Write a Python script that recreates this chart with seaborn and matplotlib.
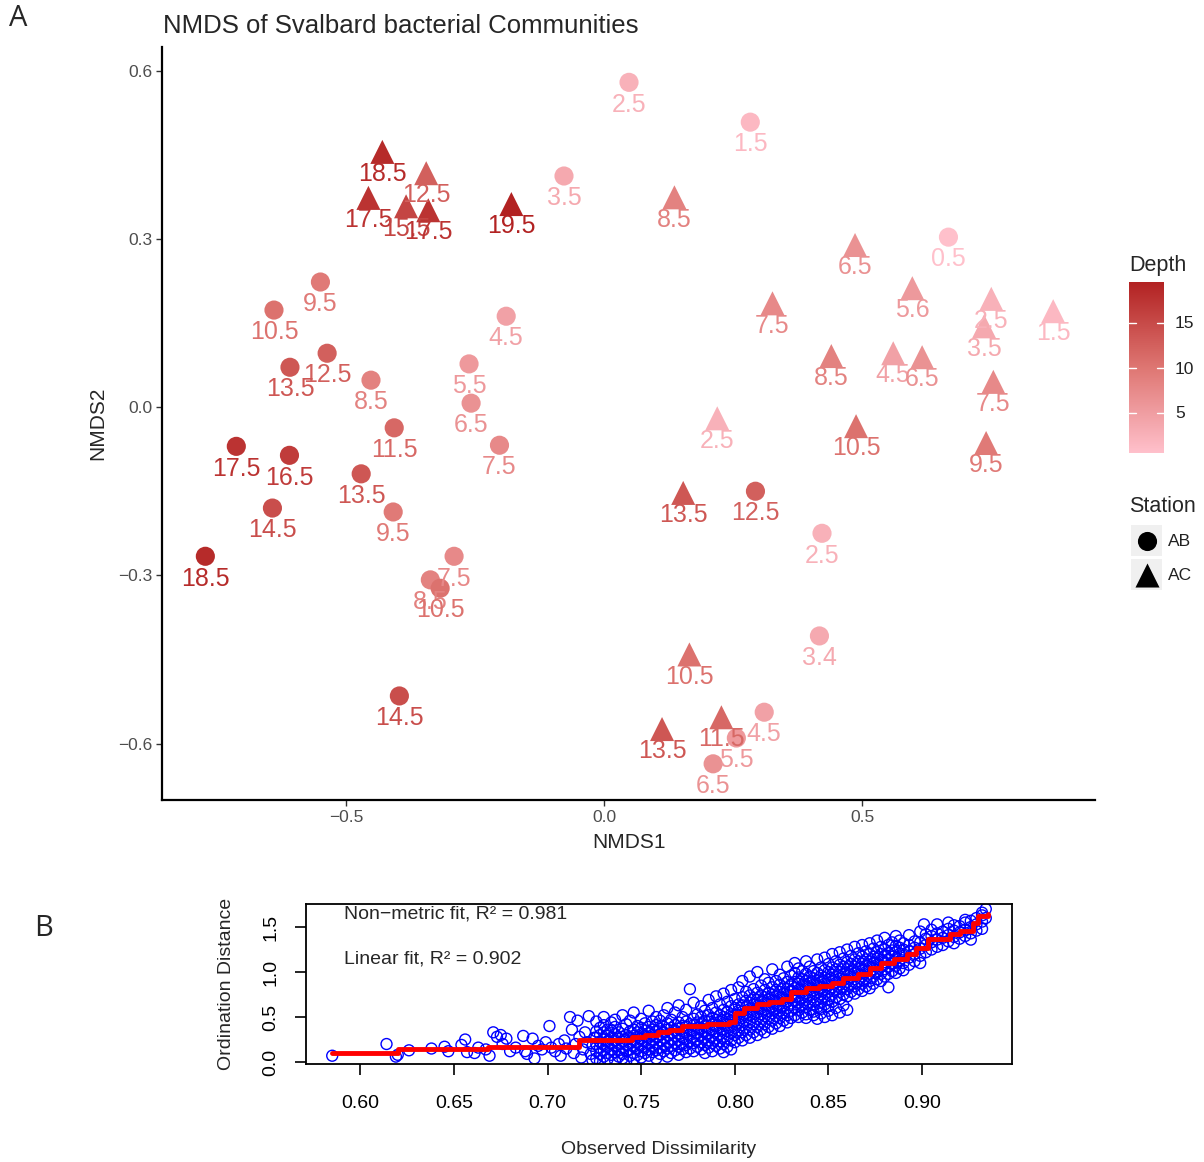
import numpy as np
import pandas as pd
import seaborn as sns
import matplotlib
matplotlib.use("Agg")
import matplotlib.pyplot as plt
from matplotlib.colors import LinearSegmentedColormap, Normalize
from matplotlib.cm import ScalarMappable
from matplotlib.patches import Rectangle

sns.set_theme(style="white")
plt.rcParams["font.family"] = ["Liberation Sans", "DejaVu Sans"]

# ---------------- NMDS site scores ----------------
# Station AB (circles)
ab_nmds1 = [0.048, 0.283, -0.078, 0.667, -0.550, -0.640, -0.190, -0.537, -0.609, -0.452,
            -0.262, -0.258, -0.407, -0.203, -0.713, -0.610, -0.471, -0.409, -0.643, -0.773,
            -0.291, -0.337, -0.318, -0.397, 0.293, 0.422, 0.417, 0.310, 0.256, 0.211]
ab_nmds2 = [0.579, 0.508, 0.412, 0.303, 0.223, 0.173, 0.162, 0.096, 0.071, 0.048,
            0.077, 0.007, -0.037, -0.068, -0.070, -0.086, -0.119, -0.187, -0.180, -0.266,
            -0.266, -0.308, -0.323, -0.515, -0.150, -0.225, -0.408, -0.544, -0.590, -0.636]
ab_depth = [2.5, 1.5, 3.5, 0.5, 9.5, 10.5, 4.5, 12.5, 13.5, 8.5,
            5.5, 6.5, 11.5, 7.5, 17.5, 16.5, 13.5, 9.5, 14.5, 18.5,
            7.5, 8.5, 10.5, 14.5, 12.5, 2.5, 3.4, 4.5, 5.5, 6.5]

# Station AC (triangles)
ac_nmds1 = [-0.430, -0.345, -0.457, -0.384, -0.341, -0.180, 0.136, 0.486, 0.597, 0.326,
            0.750, 0.736, 0.870, 0.440, 0.560, 0.616, 0.754, 0.219, 0.488, 0.740,
            0.153, 0.165, 0.112, 0.227]
ac_nmds2 = [0.455, 0.417, 0.373, 0.358, 0.351, 0.362, 0.374, 0.289, 0.212, 0.185,
            0.193, 0.144, 0.171, 0.091, 0.096, 0.089, 0.045, -0.020, -0.034, -0.064,
            -0.153, -0.441, -0.574, -0.553]
ac_depth = [18.5, 12.5, 17.5, 15.5, 17.5, 19.5, 8.5, 6.5, 5.6, 7.5,
            2.5, 3.5, 1.5, 8.5, 4.5, 6.5, 7.5, 2.5, 10.5, 9.5,
            13.5, 10.5, 13.5, 11.5]

# ---------------- Shepard diagram ----------------
shepard_sparse = [
    (0.585, 0.07), (0.614, 0.20), (0.619, 0.06), (0.620, 0.08), (0.626, 0.13), (0.638, 0.15),
    (0.645, 0.17), (0.647, 0.12), (0.654, 0.19), (0.656, 0.25), (0.657, 0.11), (0.661, 0.10),
    (0.663, 0.16), (0.667, 0.14), (0.669, 0.07), (0.671, 0.33), (0.673, 0.28), (0.675, 0.30),
    (0.676, 0.20), (0.678, 0.26), (0.680, 0.12), (0.683, 0.16), (0.687, 0.29), (0.688, 0.12),
    (0.689, 0.09), (0.692, 0.26), (0.693, 0.04), (0.695, 0.18), (0.697, 0.14), (0.699, 0.22),
    (0.701, 0.40), (0.702, 0.16), (0.704, 0.12), (0.706, 0.20), (0.707, 0.07), (0.709, 0.24),
    (0.710, 0.15), (0.712, 0.50), (0.713, 0.36), (0.714, 0.10), (0.715, 0.20), (0.716, 0.46),
    (0.717, 0.28), (0.718, 0.05), (0.719, 0.14), (0.720, 0.33), (0.721, 0.22), (0.722, 0.51),
    (0.723, 0.09), (0.724, 0.18), (0.724, 0.02), (0.725, 0.27),
]
shepard_mid = [
    (0.726, [0.04, 0.12, 0.20, 0.27, 0.34, 0.45]),
    (0.728, [0.01, 0.09, 0.16, 0.22, 0.30, 0.38]),
    (0.730, [0.06, 0.13, 0.19, 0.25, 0.33, 0.41, 0.50]),
    (0.732, [0.03, 0.10, 0.17, 0.23, 0.29, 0.36]),
    (0.734, [0.08, 0.14, 0.21, 0.27, 0.35, 0.44]),
    (0.736, [0.02, 0.11, 0.18, 0.24, 0.31, 0.39, 0.47]),
    (0.738, [0.06, 0.13, 0.20, 0.26, 0.33]),
    (0.740, [0.04, 0.09, 0.16, 0.23, 0.28, 0.37, 0.52]),
    (0.742, [0.01, 0.12, 0.19, 0.25, 0.30, 0.42]),
    (0.744, [0.07, 0.14, 0.21, 0.27, 0.34, 0.46]),
    (0.746, [0.03, 0.10, 0.17, 0.24, 0.29, 0.36, 0.55]),
    (0.748, [0.08, 0.15, 0.22, 0.28, 0.33, 0.40]),
    (0.750, [0.05, 0.12, 0.19, 0.26, 0.31, 0.38, 0.48]),
    (0.752, [0.10, 0.16, 0.23, 0.29, 0.35, 0.43]),
    (0.754, [0.07, 0.14, 0.21, 0.27, 0.32, 0.39, 0.57]),
    (0.756, [0.11, 0.18, 0.25, 0.30, 0.36, 0.45]),
    (0.758, [0.04, 0.13, 0.20, 0.28, 0.34, 0.41, 0.50]),
    (0.760, [0.09, 0.16, 0.24, 0.31, 0.37, 0.46]),
    (0.762, [0.12, 0.19, 0.27, 0.33, 0.39, 0.52]),
    (0.764, [0.06, 0.15, 0.22, 0.30, 0.36, 0.43, 0.60]),
    (0.766, [0.10, 0.18, 0.25, 0.32, 0.38, 0.47]),
    (0.768, [0.13, 0.21, 0.29, 0.35, 0.41, 0.55]),
    (0.770, [0.08, 0.17, 0.24, 0.31, 0.37, 0.44, 0.63]),
    (0.772, [0.14, 0.20, 0.27, 0.34, 0.40, 0.50]),
    (0.774, [0.11, 0.19, 0.26, 0.33, 0.39, 0.45, 0.58]),
    (0.776, [0.15, 0.23, 0.30, 0.36, 0.42, 0.81]),
    (0.778, [0.12, 0.21, 0.28, 0.35, 0.41, 0.48, 0.66]),
    (0.780, [0.17, 0.25, 0.32, 0.38, 0.44, 0.53]),
    (0.782, [0.14, 0.22, 0.30, 0.37, 0.43, 0.50, 0.62]),
    (0.784, [0.10, 0.19, 0.27, 0.34, 0.40, 0.46, 0.57]),
    (0.786, [0.16, 0.24, 0.32, 0.38, 0.45, 0.52, 0.69]),
    (0.788, [0.12, 0.21, 0.29, 0.36, 0.42, 0.49, 0.60]),
    (0.790, [0.18, 0.26, 0.34, 0.40, 0.47, 0.55, 0.73]),
    (0.792, [0.15, 0.23, 0.31, 0.39, 0.45, 0.52, 0.64]),
    (0.794, [0.11, 0.20, 0.28, 0.36, 0.43, 0.50, 0.58, 0.76]),
    (0.796, [0.17, 0.26, 0.34, 0.41, 0.48, 0.56, 0.67]),
    (0.798, [0.14, 0.24, 0.32, 0.39, 0.46, 0.53, 0.62, 0.80]),
    (0.800, [0.22, 0.30, 0.38, 0.45, 0.52, 0.60, 0.70]),
    (0.802, [0.27, 0.35, 0.43, 0.50, 0.57, 0.64, 0.83]),
    (0.804, [0.24, 0.33, 0.41, 0.49, 0.56, 0.63, 0.72, 0.90]),
    (0.806, [0.30, 0.38, 0.46, 0.54, 0.61, 0.68, 0.78]),
    (0.808, [0.27, 0.36, 0.44, 0.52, 0.59, 0.66, 0.74, 0.95]),
    (0.810, [0.33, 0.42, 0.50, 0.57, 0.64, 0.71, 0.81]),
    (0.812, [0.30, 0.39, 0.48, 0.55, 0.62, 0.69, 0.77, 1.00]),
    (0.814, [0.36, 0.45, 0.53, 0.60, 0.67, 0.74, 0.85]),
    (0.816, [0.33, 0.42, 0.51, 0.58, 0.65, 0.72, 0.80, 0.92]),
    (0.818, [0.39, 0.48, 0.56, 0.63, 0.70, 0.77, 0.88]),
    (0.820, [0.37, 0.46, 0.54, 0.61, 0.68, 0.75, 0.83, 1.03]),
    (0.822, [0.43, 0.51, 0.59, 0.66, 0.73, 0.80, 0.90]),
    (0.824, [0.40, 0.49, 0.57, 0.64, 0.71, 0.78, 0.86, 0.97]),
    (0.826, [0.46, 0.54, 0.62, 0.69, 0.76, 0.83, 0.93]),
    (0.828, [0.44, 0.52, 0.60, 0.67, 0.74, 0.81, 0.89, 1.06]),
    (0.830, [0.49, 0.57, 0.65, 0.72, 0.79, 0.86, 0.96]),
]
shepard_high = [
    (0.832, [0.52, 0.60, 0.68, 0.75, 0.82, 0.89, 0.99, 1.10]),
    (0.834, [0.50, 0.58, 0.66, 0.73, 0.80, 0.87, 0.94, 1.04]),
    (0.836, [0.55, 0.63, 0.71, 0.78, 0.85, 0.92, 1.01]),
    (0.838, [0.49, 0.53, 0.61, 0.69, 0.76, 0.83, 0.90, 0.98, 1.12]),
    (0.840, [0.58, 0.66, 0.74, 0.81, 0.88, 0.95, 1.06]),
    (0.842, [0.52, 0.56, 0.64, 0.72, 0.79, 0.86, 0.93, 1.01]),
    (0.844, [0.48, 0.61, 0.69, 0.77, 0.84, 0.91, 0.99, 1.14]),
    (0.846, [0.54, 0.59, 0.67, 0.75, 0.82, 0.89, 0.96, 1.05]),
    (0.848, [0.50, 0.64, 0.72, 0.80, 0.87, 0.94, 1.02, 1.16]),
    (0.850, [0.57, 0.62, 0.70, 0.78, 0.85, 0.92, 1.00, 1.09]),
    (0.852, [0.52, 0.67, 0.75, 0.83, 0.90, 0.97, 1.05, 1.20]),
    (0.854, [0.60, 0.72, 0.80, 0.88, 0.95, 1.03, 1.12]),
    (0.856, [0.55, 0.70, 0.78, 0.86, 0.93, 1.00, 1.08, 1.22]),
    (0.858, [0.63, 0.75, 0.83, 0.91, 0.98, 1.06, 1.15]),
    (0.860, [0.58, 0.73, 0.81, 0.89, 0.96, 1.03, 1.11, 1.25]),
    (0.862, [0.78, 0.86, 0.94, 1.01, 1.09, 1.18]),
    (0.864, [0.76, 0.84, 0.92, 0.99, 1.06, 1.14, 1.28]),
    (0.866, [0.81, 0.89, 0.97, 1.04, 1.12, 1.21]),
    (0.868, [0.79, 0.87, 0.95, 1.02, 1.09, 1.17, 1.30]),
    (0.870, [0.84, 0.92, 1.00, 1.07, 1.14, 1.23]),
    (0.872, [0.82, 0.90, 0.98, 1.05, 1.12, 1.20, 1.32]),
    (0.874, [0.87, 0.95, 1.03, 1.10, 1.17, 1.26]),
    (0.876, [0.92, 1.00, 1.08, 1.15, 1.22, 1.35]),
    (0.878, [0.90, 0.98, 1.06, 1.13, 1.20, 1.28]),
    (0.880, [0.95, 1.03, 1.11, 1.18, 1.25, 1.38]),
    (0.882, [0.83, 0.98, 1.06, 1.14, 1.21, 1.30]),
    (0.884, [1.01, 1.09, 1.17, 1.24, 1.33]),
    (0.886, [0.99, 1.07, 1.15, 1.22, 1.29, 1.40]),
    (0.888, [1.04, 1.12, 1.20, 1.27, 1.35]),
    (0.890, [1.02, 1.10, 1.18, 1.25, 1.32]),
    (0.893, [1.08, 1.16, 1.23, 1.30, 1.41]),
    (0.896, [1.12, 1.20, 1.27, 1.34]),
    (0.899, [1.10, 1.18, 1.26, 1.33, 1.45]),
    (0.901, [1.53]),
    (0.902, [1.22, 1.30, 1.37, 1.42]),
    (0.905, [1.25, 1.33, 1.40, 1.47]),
    (0.908, [1.28, 1.36, 1.43, 1.53]),
    (0.911, [1.30, 1.38, 1.45]),
    (0.914, [1.34, 1.41, 1.48, 1.55]),
    (0.917, [1.32, 1.39, 1.46, 1.52]),
    (0.920, [1.37, 1.44, 1.51]),
    (0.923, [1.40, 1.47, 1.55, 1.58]),
    (0.926, [1.36, 1.43, 1.50, 1.57]),
    (0.929, [1.46, 1.53, 1.60]),
    (0.932, [1.48, 1.56, 1.63, 1.66]),
    (0.934, [1.60, 1.70]),
]
# isotonic (non-metric) fit
shepard_step_x = [0.585, 0.620, 0.668, 0.717, 0.745, 0.752, 0.759, 0.765, 0.772, 0.785,
                  0.797, 0.800, 0.805, 0.812, 0.818, 0.825, 0.830, 0.838, 0.845, 0.852,
                  0.858, 0.866, 0.872, 0.878, 0.885, 0.892, 0.897, 0.903, 0.915, 0.920,
                  0.927, 0.930, 0.935]
shepard_step_y = [0.10, 0.14, 0.17, 0.24, 0.28, 0.30, 0.33, 0.36, 0.40, 0.42,
                  0.45, 0.55, 0.60, 0.64, 0.67, 0.70, 0.78, 0.82, 0.85, 0.88,
                  0.93, 0.98, 1.05, 1.10, 1.15, 1.20, 1.27, 1.37, 1.42, 1.46,
                  1.55, 1.62, 1.65]

# ---------------- figure ----------------
W, H = 1204, 1162
fig = plt.figure(figsize=(W / 100, H / 100), dpi=100)


def fx(px):
    return px / W


def fy(py):
    return 1 - py / H


depth_cmap = LinearSegmentedColormap.from_list("depth", ["#FFC0CB", "#DE7672", "#B22222"])
depth_norm = Normalize(0.5, 19.5)

ab = pd.DataFrame({"NMDS1": ab_nmds1, "NMDS2": ab_nmds2, "Depth": ab_depth})
ac = pd.DataFrame({"NMDS1": ac_nmds1, "NMDS2": ac_nmds2, "Depth": ac_depth})

ax = fig.add_axes([fx(162), fy(800), fx(1095) - fx(162), fy(47) - fy(800)])
sns.scatterplot(data=ab, x="NMDS1", y="NMDS2", hue="Depth", palette=depth_cmap,
                hue_norm=depth_norm, marker="o", s=190, linewidth=0, legend=False, ax=ax)
sns.scatterplot(data=ac, x="NMDS1", y="NMDS2", hue="Depth", palette=depth_cmap,
                hue_norm=depth_norm, marker="^", s=300, linewidth=0, legend=False, ax=ax)

for df in (ab, ac):
    for x, y, d in zip(df["NMDS1"], df["NMDS2"], df["Depth"]):
        ax.annotate(f"{d:.1f}", (x, y), xytext=(0, -16), textcoords="offset points",
                    ha="center", va="center", fontsize=18, color=depth_cmap(depth_norm(d)))

ax.set_xlim(-0.857, 0.951)
ax.set_ylim(-0.7005, 0.642)
ax.set_xticks([-0.5, 0.0, 0.5])
ax.set_xticklabels(["\u22120.5", "0.0", "0.5"])
ax.set_yticks([-0.6, -0.3, 0.0, 0.3, 0.6])
ax.set_yticklabels(["\u22120.6", "\u22120.3", "0.0", "0.3", "0.6"])
for s in ("top", "right"):
    ax.spines[s].set_visible(False)
for s in ("left", "bottom"):
    ax.spines[s].set_color("black")
    ax.spines[s].set_linewidth(1.6)
ax.tick_params(axis="both", direction="out", length=4, width=1, color="#333333",
               labelcolor="#4D4D4D", labelsize=12.5, pad=3, left=True, bottom=True)
ax.set_xlabel("NMDS1", fontsize=15, labelpad=6)
ax.set_ylabel("NMDS2", fontsize=15, labelpad=8)
ax.grid(False)

fig.text(fx(163), fy(26), "NMDS of Svalbard bacterial Communities", fontsize=18.5,
         ha="left", va="center")

# ---------------- Shepard panel ----------------
sx, sy = [], []
for x, y in shepard_sparse:
    sx.append(x)
    sy.append(y)
for col in (shepard_mid, shepard_high):
    for x, ys in col:
        for y in ys:
            sx.append(x)
            sy.append(y)

ax2 = fig.add_axes([fx(306), fy(1064), fx(1012) - fx(306), fy(904) - fy(1064)])
sns.scatterplot(x=sx, y=sy, marker="o", s=62, ax=ax2, legend=False)
pts = ax2.collections[-1]
pts.set_facecolor("none")
pts.set_edgecolor("#0000FF")
pts.set_linewidth(1.0)
sns.lineplot(x=shepard_step_x, y=shepard_step_y, drawstyle="steps-post", color="#FF0000",
             linewidth=3.5, estimator=None, sort=False, ax=ax2)

ax2.set_xlim(0.571, 0.948)
ax2.set_ylim(-0.022, 1.756)
ax2.set_xticks([0.60, 0.65, 0.70, 0.75, 0.80, 0.85, 0.90])
ax2.set_xticklabels(["0.60", "0.65", "0.70", "0.75", "0.80", "0.85", "0.90"])
ax2.set_yticks([0.0, 0.5, 1.0, 1.5])
ax2.set_yticklabels(["0.0", "0.5", "1.0", "1.5"], rotation=90, va="center")
for s in ax2.spines.values():
    s.set_visible(True)
    s.set_color("black")
    s.set_linewidth(1.3)
ax2.tick_params(axis="both", direction="out", length=8, width=1.2, color="black",
                labelcolor="black", labelsize=14, left=True, bottom=True)
ax2.tick_params(axis="x", pad=14)
ax2.tick_params(axis="y", pad=11)
ax2.set_xlabel("Observed Dissimilarity", fontsize=14, labelpad=21)
ax2.set_ylabel("Ordination Distance", fontsize=14, labelpad=20)
ax2.grid(False)

fig.text(fx(344), fy(914), "Non\u2212metric fit, R\u00b2 = 0.981", fontsize=14, ha="left", va="center")
fig.text(fx(344), fy(959), "Linear fit, R\u00b2 = 0.902", fontsize=14, ha="left", va="center")

# panel letters
fig.text(fx(18), fy(18), "A", fontsize=21, ha="center", va="center", family=["Open Sans", "DejaVu Sans"])
fig.text(fx(44), fy(928), "B", fontsize=21, ha="center", va="center", family=["Open Sans", "DejaVu Sans"])

# ---------------- legends ----------------
cax = fig.add_axes([fx(1129), fy(453), fx(1164) - fx(1129), fy(282) - fy(453)])
cb = fig.colorbar(ScalarMappable(norm=depth_norm, cmap=depth_cmap), cax=cax)
cb.outline.set_visible(False)
cb.set_ticks([5, 10, 15])
cax.tick_params(length=0, labelsize=12.5, labelcolor="#222222", pad=8)
for t in (5, 10, 15):
    cax.plot([0, 0.2], [t, t], color="white", lw=1, transform=cax.get_yaxis_transform())
    cax.plot([0.8, 1.0], [t, t], color="white", lw=1, transform=cax.get_yaxis_transform())

leg = fig.add_axes([0, 0, 1, 1])
leg.set_xlim(0, W)
leg.set_ylim(H, 0)
leg.axis("off")
leg.patch.set_alpha(0)
leg.text(1129, 266, "Depth", fontsize=15.5, ha="left", va="center")
leg.text(1129, 507, "Station", fontsize=15.5, ha="left", va="center")
leg.add_patch(Rectangle((1131, 525), 31, 31, color="#F0F0F0", lw=0))
leg.add_patch(Rectangle((1131, 559), 31, 31, color="#F0F0F0", lw=0))
leg.scatter([1146.5], [540.5], marker="o", s=190, color="black", lw=0)
leg.scatter([1146.5], [574.5], marker="^", s=300, color="black", lw=0)
leg.text(1168, 541, "AB", fontsize=12.5, ha="left", va="center", color="#222222")
leg.text(1168, 575, "AC", fontsize=12.5, ha="left", va="center", color="#222222")

fig.savefig("out.png", dpi=100, facecolor="white")
